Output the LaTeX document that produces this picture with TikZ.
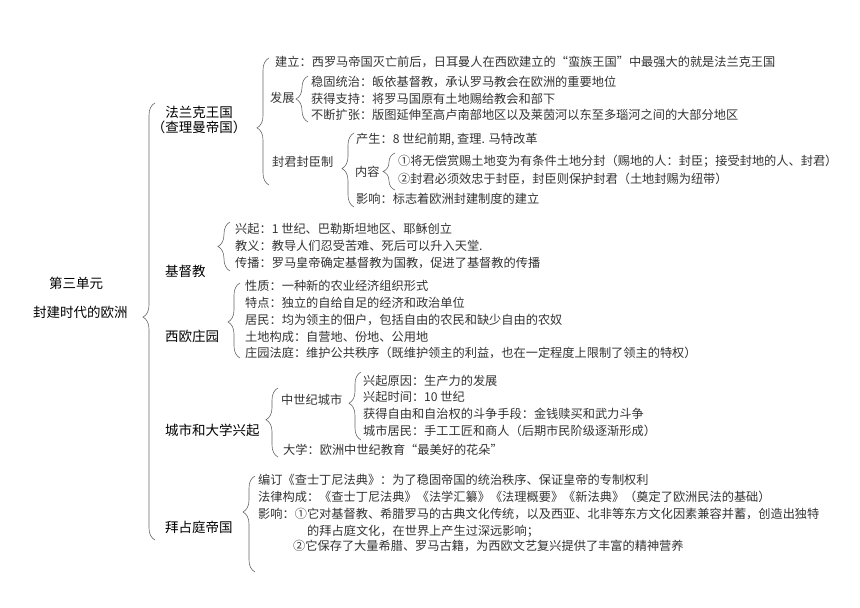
\documentclass[tikz,border=0pt]{standalone}
\usepackage{fontspec}
\setmainfont{Noto Sans CJK SC}
\usetikzlibrary{decorations.pathreplacing}
\begin{document}
\begin{tikzpicture}[x=1pt,y=-1pt,
  lbl/.style={anchor=west,inner sep=0pt,font=\fontsize{13.5}{14.5}\selectfont,text=black},
  txt/.style={anchor=west,inner sep=0pt,font=\fontsize{12.2}{14}\selectfont,text=black!80},
  br/.style={decorate,decoration={brace,amplitude=12pt,raise=#1},draw=black!60,line width=0.6pt},
  br/.default=3pt]
\useasboundingbox (0,0) rectangle (860,608);
% root
\node[lbl] (unit) at (49,283) {第三单元};
\node[lbl] (era) at (33,312) {封建时代的欧洲};
% first level
\node[lbl,anchor=center,align=center] (fr) at (199,120) {法兰克王国\\（查理曼帝国）};
\node[lbl] (jdj) at (165,271) {基督教};
\node[lbl] (zy) at (165,336) {西欧庄园};
\node[lbl] (cs) at (165,430) {城市和大学兴起};
\node[lbl] (bzt) at (165,527) {拜占庭帝国};
\draw[br=10pt,decoration={aspect=0.51}] (jdj.west |- 0,540) -- (jdj.west |- 0,103);
% 法兰克王国
\node[txt] (jl) at (275,62) {建立：西罗马帝国灭亡前后，日耳曼人在西欧建立的“蛮族王国”中最强大的就是法兰克王国};
\node[txt] (fz) at (270,98) {发展};
\node[txt] (fz1) at (311,82) {稳固统治：皈依基督教，承认罗马教会在欧洲的重要地位};
\node[txt] (fz2) at (311,99) {获得支持：将罗马国原有土地赐给教会和部下};
\node[txt] (fz3) at (311,115) {不断扩张：版图延伸至高卢南部地区以及莱茵河以东至多瑙河之间的大部分地区};
\node[txt] (fj) at (272,162) {封君封臣制};
\node[txt] (fj1) at (356,140) {产生：8 世纪前期, 查理. 马特改革};
\node[txt] (nr) at (355,172) {内容};
\node[txt] (nr1) at (398,161) {①将无偿赏赐土地变为有条件土地分封（赐地的人：封臣；接受封地的人、封君）};
\node[txt] (nr2) at (398,179) {②封君必须效忠于封臣，封臣则保护封君（土地封赐为纽带）};
\node[txt] (fj3) at (356,199) {影响：标志着欧洲封建制度的建立};
\draw[br=6pt,decoration={aspect=0.45}] (jl.west |- 0,185) -- (jl.west |- 0,58);
\draw[br=3pt] (fz1.west |- 0,122) -- (fz1.west |- 0,76);
\draw[br=2pt,decoration={aspect=0.52}] (fj1.west |- 0,207) -- (fj1.west |- 0,133);
\draw[br=3pt] (nr1.west |- 0,190) -- (nr1.west |- 0,153);
% 基督教
\node[txt] (jd1) at (235,229) {兴起：1 世纪、巴勒斯坦地区、耶稣创立};
\node[txt] (jd2) at (235,246) {教义：教导人们忍受苦难、死后可以升入天堂.};
\node[txt] (jd3) at (235,263) {传播：罗马皇帝确定基督教为国教，促进了基督教的传播};
\draw[br=5pt] (jd1.west |- 0,271) -- (jd1.west |- 0,222);
% 西欧庄园
\node[txt] (zy1) at (245,286) {性质：一种新的农业经济组织形式};
\node[txt] (zy2) at (245,303) {特点：独立的自给自足的经济和政治单位};
\node[txt] (zy3) at (245,320) {居民：均为领主的佃户，包括自由的农民和缺少自由的农奴};
\node[txt] (zy4) at (245,337) {土地构成：自营地、份地、公用地};
\node[txt] (zy5) at (245,353) {庄园法庭：维护公共秩序（既维护领主的利益，也在一定程度上限制了领主的特权）};
\draw[br=5pt,decoration={aspect=0.48}] (zy1.west |- 0,358) -- (zy1.west |- 0,283);
% 城市和大学兴起
\node[txt] (zc) at (281,400) {中世纪城市};
\node[txt] (zc1) at (363,381) {兴起原因：生产力的发展};
\node[txt] (zc2) at (363,397) {兴起时间：10 世纪};
\node[txt] (zc3) at (363,414) {获得自由和自治权的斗争手段：金钱赎买和武力斗争};
\node[txt] (zc4) at (363,431) {城市居民：手工工匠和商人（后期市民阶级逐渐形成）};
\node[txt] (dx) at (283,450) {大学：欧洲中世纪教育“最美好的花朵”};
\draw[br=3pt,decoration={aspect=0.54}] (zc.west |- 0,457) -- (zc.west |- 0,388);
\draw[br=2pt,decoration={aspect=0.54}] (zc1.west |- 0,440) -- (zc1.west |- 0,372);
% 拜占庭帝国
\node[txt] (bz1) at (258,480) {编订《查士丁尼法典》：为了稳固帝国的统治秩序、保证皇帝的专制权利};
\node[txt] (bz2) at (258,497) {法律构成：《查士丁尼法典》《法学汇纂》《法理概要》《新法典》（奠定了欧洲民法的基础）};
\node[txt] (bz3) at (258,514) {影响：①它对基督教、希腊罗马的古典文化传统，以及西亚、北非等东方文化因素兼容并蓄，创造出独特};
\node[txt] (bz4) at (307,531) {的拜占庭文化，在世界上产生过深远影响；};
\node[txt] (bz5) at (293,546) {②它保存了大量希腊、罗马古籍，为西欧文艺复兴提供了丰富的精神营养};
\draw[br=3pt,decoration={aspect=0.625}] (bz1.west |- 0,572) -- (bz1.west |- 0,476);
\end{tikzpicture}
\end{document}
